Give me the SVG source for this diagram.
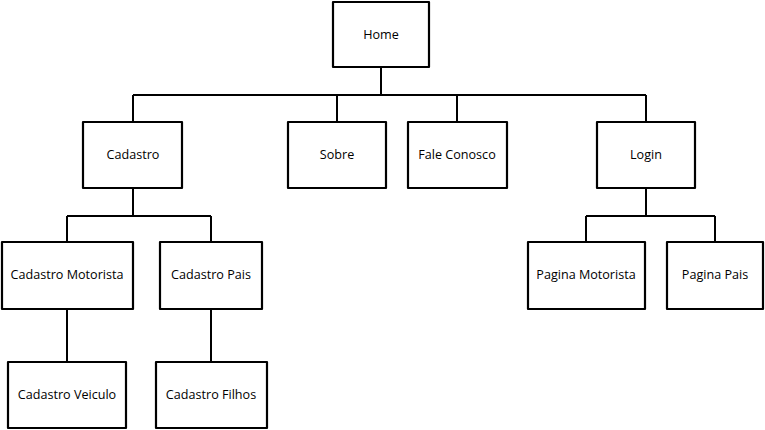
<svg xmlns="http://www.w3.org/2000/svg" width="765" height="430" viewBox="0 0 765 430">
<style>
.box{fill:#fff;stroke:#000;stroke-width:2.2;stroke-linejoin:round}
.lbl{font-family:"Open Sans","Liberation Sans",sans-serif;font-size:12.6px;fill:#000;text-anchor:middle;dominant-baseline:central}
.con{fill:none;stroke:#000;stroke-width:2}
</style>
<rect width="765" height="430" fill="#fff"/>
<g id="connectors">
<path class="con" d="M381,67 V95 M133,95 H646 M133,95 V122 M337,95 V122 M457,95 V122 M646,95 V122"/>
<path class="con" d="M133,188 V216 M67,216 H211 M67,216 V242 M211,216 V242"/>
<path class="con" d="M646,188 V216 M586,216 H715 M586,216 V242 M715,216 V242"/>
<path class="con" d="M67,309 V362 M211,309 V362"/>
</g>
<g id="home"><rect class="box" x="333" y="2" width="96" height="65"/><text class="lbl" x="381" y="34">Home</text></g>
<g id="cadastro"><rect class="box" x="83" y="122" width="99" height="66"/><text class="lbl" x="133" y="154">Cadastro</text></g>
<g id="sobre"><rect class="box" x="288" y="122" width="98" height="66"/><text class="lbl" x="337" y="154">Sobre</text></g>
<g id="fale-conosco"><rect class="box" x="408" y="122" width="99" height="66"/><text class="lbl" x="457" y="154">Fale Conosco</text></g>
<g id="login"><rect class="box" x="597" y="122" width="98" height="66"/><text class="lbl" x="646" y="154">Login</text></g>
<g id="cadastro-motorista"><rect class="box" x="2" y="242" width="131" height="67"/><text class="lbl" x="67" y="274">Cadastro Motorista</text></g>
<g id="cadastro-pais"><rect class="box" x="160" y="242" width="102" height="67"/><text class="lbl" x="211" y="274">Cadastro Pais</text></g>
<g id="pagina-motorista"><rect class="box" x="528" y="242" width="117" height="67"/><text class="lbl" x="586" y="274">Pagina Motorista</text></g>
<g id="pagina-pais"><rect class="box" x="667" y="242" width="96" height="67"/><text class="lbl" x="715" y="274">Pagina Pais</text></g>
<g id="cadastro-veiculo"><rect class="box" x="8" y="362" width="118" height="66"/><text class="lbl" x="67" y="394">Cadastro Veiculo</text></g>
<g id="cadastro-filhos"><rect class="box" x="156" y="362" width="111" height="66"/><text class="lbl" x="211" y="394">Cadastro Filhos</text></g>
</svg>
